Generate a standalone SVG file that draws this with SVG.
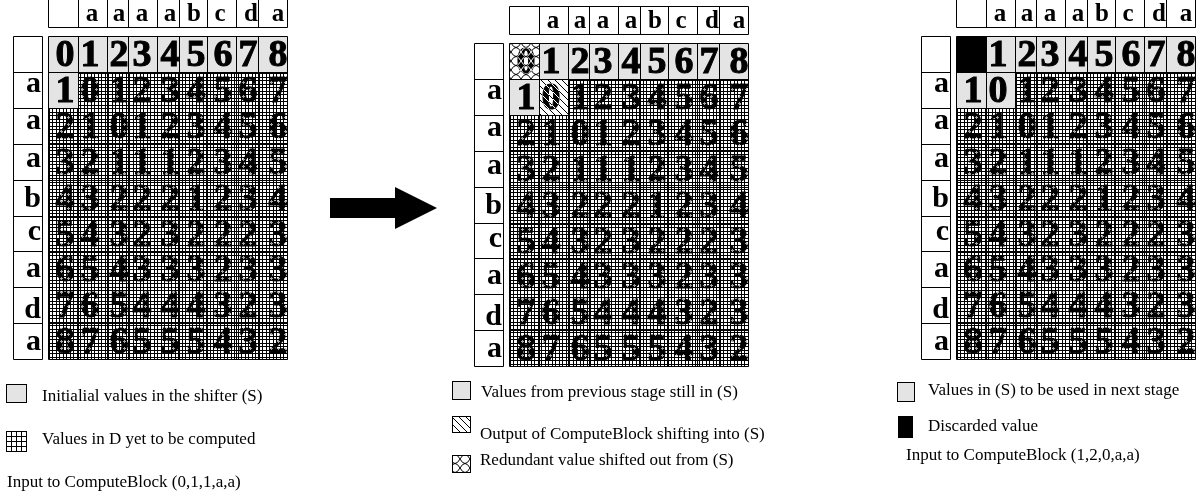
<svg xmlns="http://www.w3.org/2000/svg" xmlns:xlink="http://www.w3.org/1999/xlink" width="1198" height="498" viewBox="0 0 1198 498">
  <style>
    .rule { fill: none; stroke: #000; stroke-width: 1; }
    .frame { stroke: #000; stroke-width: 1; }
    .s { fill: #e4e4e4; }
    .hdr { font-family: "Liberation Serif", "Times New Roman", serif; font-weight: bold; font-size: 25px; text-anchor: middle; }
    .lbl { font-family: "Liberation Serif", "Times New Roman", serif; font-weight: bold; font-size: 30px; text-anchor: end; }
    .num { font-family: "Liberation Serif", "Times New Roman", serif; font-weight: bold; font-size: 38px; text-anchor: middle; stroke: #000; stroke-width: 1px; }
    .note { font-family: "Liberation Serif", "Times New Roman", serif; font-size: 17px; }
    .inv { mix-blend-mode: difference; }
    .hi { opacity: 0.65; }
  </style>
  <defs>
    <!-- fine mesh for cells still to be computed (lines alternate 3 and 4 px apart) -->
    <pattern id="mesh" width="7" height="7" patternUnits="userSpaceOnUse">
      <rect width="7" height="1" fill="#000"/>
      <rect y="3" width="7" height="1" fill="#000"/>
      <rect width="1" height="7" fill="#000"/>
      <rect x="3" width="1" height="7" fill="#000"/>
    </pattern>
    <!-- light strokes between the mesh lines, visible only on top of the digits -->
    <pattern id="mesh-hi" width="7" height="7" patternUnits="userSpaceOnUse">
      <rect x="5" y="4" width="1" height="3" fill="#fff"/>
      <rect x="4" y="5" width="3" height="1" fill="#fff"/>
    </pattern>
    <pattern id="mesh-coarse" width="5" height="5" patternUnits="userSpaceOnUse" x="1" y="1">
      <rect width="5" height="1" fill="#000"/>
      <rect width="1" height="5" fill="#000"/>
    </pattern>
    <!-- white strokes, blended with "difference": black on paper, white over glyphs -->
    <pattern id="diag" width="7" height="7" patternUnits="userSpaceOnUse">
      <path d="M0,0L7,7M-1,6L1,8M6,-1L8,1" stroke="#fff" stroke-width="1"/>
    </pattern>
    <pattern id="chain" width="10" height="9" patternUnits="userSpaceOnUse">
      <path d="M0,0Q5,9 10,0M0,9Q5,0 10,9" fill="none" stroke="#fff" stroke-width="1"/>
    </pattern>

    <!-- cell rules shared by all three tables -->
    <path id="table-rules" d="M48.5,-0.5H287.5V27.5H48.5Z
      M78.5,-0.5V27.5M107.5,-0.5V27.5M128.5,-0.5V27.5M157.5,-0.5V27.5M179.5,-0.5V27.5M207.5,-0.5V27.5M236.5,-0.5V27.5M258.5,-0.5V27.5
      M13.5,36.5H42.5V359.5H13.5Z
      M13.5,72.5H42.5M13.5,108.5H42.5M13.5,144.5H42.5M13.5,180.5H42.5M13.5,216.5H42.5M13.5,251.5H42.5M13.5,287.5H42.5M13.5,323.5H42.5
      M48.5,36.5H287.5V359.5H48.5Z
      M78.5,36.5V359.5M107.5,36.5V359.5M128.5,36.5V359.5M157.5,36.5V359.5M179.5,36.5V359.5M207.5,36.5V359.5M236.5,36.5V359.5M258.5,36.5V359.5
      M48.5,72.5H287.5M48.5,108.5H287.5M48.5,144.5H287.5M48.5,180.5H287.5M48.5,216.5H287.5M48.5,251.5H287.5M48.5,287.5H287.5M48.5,323.5H287.5"/>
    <path id="pending-1" d="M78.5,72.5H287.5V359.5H48.5V108.5H78.5Z"/>
    <path id="pending-2" d="M107.5,72.5H287.5V359.5H48.5V108.5H107.5Z"/>
  </defs>

  <rect width="1198" height="498" fill="#fff"/>

  <!-- stage 1: initial shifter contents -->
  <g id="stage-initial">
    <rect class="s" x="48.5" y="36.5" width="239" height="36"/>
    <rect class="s" x="48.5" y="72.5" width="30" height="36"/>
    <use href="#pending-1" fill="url(#mesh)"/>
    <g class="num">
      <text x="65 90 119 142 170 196 223 248 278" y="66">012345678</text>
      <text x="65 90 119 142 170 196 223 248 278" y="102">101234567</text>
      <text x="65 90 119 142 170 196 223 248 278" y="138">210123456</text>
      <text x="65 90 119 142 170 196 223 248 278" y="174">321112345</text>
      <text x="65 90 119 142 170 196 223 248 278" y="210">432221234</text>
      <text x="65 90 119 142 170 196 223 248 278" y="246">543232223</text>
      <text x="65 90 119 142 170 196 223 248 278" y="281">654333233</text>
      <text x="65 90 119 142 170 196 223 248 278" y="317">765444323</text>
      <text x="65 90 119 142 170 196 223 248 278" y="353">876555432</text>
    </g>
    <use href="#pending-1" fill="url(#mesh-hi)" class="hi"/>
    <use href="#table-rules" class="rule"/>
    <g class="hdr">
      <text x="92" y="21">a</text><text x="119" y="21">a</text><text x="142" y="21">a</text><text x="170" y="21">a</text>
      <text x="194" y="21">b</text><text x="220" y="21">c</text><text x="251" y="21">d</text><text x="278" y="21">a</text>
    </g>
    <g class="lbl">
      <text x="41" y="92">a</text><text x="41" y="129">a</text><text x="41" y="167">a</text><text x="41" y="207">b</text>
      <text x="41" y="240">c</text><text x="41" y="277">a</text><text x="41" y="318">d</text><text x="41" y="350">a</text>
    </g>
  </g>

  <!-- stage 2: after one ComputeBlock step -->
  <g id="stage-shifted" transform="translate(461,7)">
    <rect class="s" x="78.5" y="36.5" width="209" height="36"/>
    <rect class="s" x="48.5" y="72.5" width="30" height="36"/>
    <use href="#pending-2" fill="url(#mesh)"/>
    <g class="num">
      <text x="65 90 119 142 170 196 223 248 278" y="66">012345678</text>
      <text x="65 90 119 142 170 196 223 248 278" y="102">101234567</text>
      <text x="65 90 119 142 170 196 223 248 278" y="138">210123456</text>
      <text x="65 90 119 142 170 196 223 248 278" y="174">321112345</text>
      <text x="65 90 119 142 170 196 223 248 278" y="210">432221234</text>
      <text x="65 90 119 142 170 196 223 248 278" y="246">543232223</text>
      <text x="65 90 119 142 170 196 223 248 278" y="281">654333233</text>
      <text x="65 90 119 142 170 196 223 248 278" y="317">765444323</text>
      <text x="65 90 119 142 170 196 223 248 278" y="353">876555432</text>
    </g>
    <use href="#pending-2" fill="url(#mesh-hi)" class="hi"/>
    <rect x="48.5" y="36.5" width="30" height="36" fill="url(#chain)" class="inv"/>
    <rect x="78.5" y="72.5" width="29" height="36" fill="url(#diag)" class="inv"/>
    <use href="#table-rules" class="rule"/>
    <g class="hdr">
      <text x="92" y="21">a</text><text x="119" y="21">a</text><text x="142" y="21">a</text><text x="170" y="21">a</text>
      <text x="194" y="21">b</text><text x="220" y="21">c</text><text x="251" y="21">d</text><text x="278" y="21">a</text>
    </g>
    <g class="lbl">
      <text x="41" y="92">a</text><text x="41" y="129">a</text><text x="41" y="167">a</text><text x="41" y="207">b</text>
      <text x="41" y="240">c</text><text x="41" y="277">a</text><text x="41" y="318">d</text><text x="41" y="350">a</text>
    </g>
  </g>

  <!-- stage 3: shifter ready for the next block -->
  <g id="stage-next" transform="translate(908,0)">
    <rect x="48.5" y="36.5" width="30" height="36" fill="#000"/>
    <rect class="s" x="78.5" y="36.5" width="209" height="36"/>
    <rect class="s" x="48.5" y="72.5" width="59" height="36"/>
    <use href="#pending-2" fill="url(#mesh)"/>
    <g class="num">
      <text x="90 119 142 170 196 223 248 278" y="66">12345678</text>
      <text x="65 90 119 142 170 196 223 248 278" y="102">101234567</text>
      <text x="65 90 119 142 170 196 223 248 278" y="138">210123456</text>
      <text x="65 90 119 142 170 196 223 248 278" y="174">321112345</text>
      <text x="65 90 119 142 170 196 223 248 278" y="210">432221234</text>
      <text x="65 90 119 142 170 196 223 248 278" y="246">543232223</text>
      <text x="65 90 119 142 170 196 223 248 278" y="281">654333233</text>
      <text x="65 90 119 142 170 196 223 248 278" y="317">765444323</text>
      <text x="65 90 119 142 170 196 223 248 278" y="353">876555432</text>
    </g>
    <use href="#pending-2" fill="url(#mesh-hi)" class="hi"/>
    <use href="#table-rules" class="rule"/>
    <g class="hdr">
      <text x="92" y="21">a</text><text x="119" y="21">a</text><text x="142" y="21">a</text><text x="170" y="21">a</text>
      <text x="194" y="21">b</text><text x="220" y="21">c</text><text x="251" y="21">d</text><text x="278" y="21">a</text>
    </g>
    <g class="lbl">
      <text x="41" y="92">a</text><text x="41" y="129">a</text><text x="41" y="167">a</text><text x="41" y="207">b</text>
      <text x="41" y="240">c</text><text x="41" y="277">a</text><text x="41" y="318">d</text><text x="41" y="350">a</text>
    </g>
  </g>

  <!-- transition arrow -->
  <g id="connectors">
    <polygon points="330,198 395,198 395,187 437,208 395,229 395,218 330,218" fill="#000"/>
  </g>

  <!-- legends -->
  <g id="legend-initial">
    <rect class="s frame" x="6.5" y="384.5" width="20" height="18"/>
    <text class="note" x="42" y="401">Initialial values in the shifter (S)</text>
    <rect x="6.5" y="431.5" width="20" height="20" fill="url(#mesh-coarse)"/>
    <rect class="rule" x="6.5" y="431.5" width="20" height="20"/>
    <text class="note" x="42" y="444">Values in D yet to be computed</text>
    <text class="note" x="7" y="487">Input to ComputeBlock (0,1,1,a,a)</text>
  </g>
  <g id="legend-shifted">
    <rect class="s frame" x="452.5" y="381.5" width="18" height="18"/>
    <text class="note" x="481" y="397">Values from previous stage still in (S)</text>
    <rect x="452.5" y="416.5" width="18" height="16" fill="url(#diag)" class="inv"/>
    <rect class="rule" x="452.5" y="416.5" width="18" height="16"/>
    <text class="note" x="480" y="439">Output of ComputeBlock shifting into (S)</text>
    <rect x="452.5" y="455.5" width="18" height="17" fill="url(#chain)" class="inv"/>
    <rect class="rule" x="452.5" y="455.5" width="18" height="17"/>
    <text class="note" x="480" y="465">Redundant value shifted out from (S)</text>
  </g>
  <g id="legend-next">
    <rect class="s frame" x="897.5" y="382.5" width="17" height="19"/>
    <text class="note" x="928" y="395">Values in (S) to be used in next stage</text>
    <rect x="898" y="416" width="15" height="22" fill="#000"/>
    <text class="note" x="928" y="431">Discarded value</text>
    <text class="note" x="906" y="460">Input to ComputeBlock (1,2,0,a,a)</text>
  </g>
</svg>
